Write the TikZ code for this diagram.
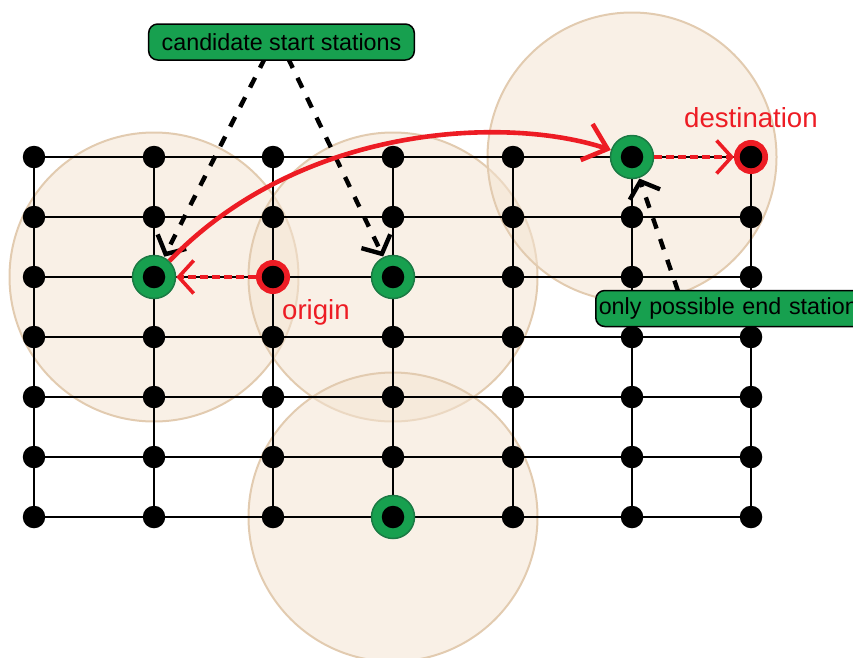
\documentclass[tikz,border=0pt]{standalone}
\usepackage{fontspec}
\setmainfont{Liberation Sans}
\usetikzlibrary{arrows.meta,calc}
\definecolor{zone}{HTML}{F4E4D2}
\definecolor{zoneedge}{HTML}{E2CBB0}
\definecolor{stgreen}{HTML}{17A04F}
\definecolor{stgreenedge}{HTML}{1B7A44}
\definecolor{stred}{HTML}{ED1C24}
\pgfdeclarelayer{zones}
\pgfdeclarelayer{links}
\pgfsetlayers{zones,links,main}
\tikzset{
  x=1pt,y=-1pt,
  dot/.style={circle,fill=black,draw=none,minimum size=22.5pt,inner sep=0pt},
  ring/.style={circle,fill=stgreen,draw=stgreenedge,line width=1.5pt,minimum size=43pt,inner sep=0pt},
  redring/.style={circle,fill=black,draw=stred,line width=6pt,minimum size=28pt,inner sep=0pt},
  zonecircle/.style={circle,fill=zone,fill opacity=0.55,draw=zoneedge,line width=2pt,minimum size=289pt,inner sep=0pt},
  gridline/.style={draw=black,line width=2.4pt},
  callout/.style={draw=black,fill=stgreen,line width=1.5pt,rounded corners=9pt,font=\fontsize{23.3pt}{26pt}\selectfont,text=black,inner ysep=0pt,minimum height=36pt},
  pointer/.style={draw=black,line width=4.4pt,dash pattern=on 11pt off 11pt,-{Straight Barb[length=14pt,width=32pt]},shorten >=0.5pt},
  hop/.style={draw=stred,line width=3.6pt,dash pattern=on 8pt off 4pt,-{Straight Barb[length=15pt,width=33pt]}},
  ride/.style={draw=stred,line width=4.6pt,-{Straight Barb[length=22pt,width=38pt]}},
  placelabel/.style={text=stred,font=\fontsize{27.6pt}{30pt}\selectfont,inner sep=0pt}
}
\begin{document}
\begin{tikzpicture}
\useasboundingbox (0,0) rectangle (853,657);
% stations
\foreach \col/\x in {1/34,2/154,3/273,4/393,5/513,6/632,7/751}
  \foreach \row/\y in {1/157,2/217,3/277,4/337,5/397,6/457,7/517}
    \coordinate (p\col\row) at (\x,\y);
\node[ring] (g1) at (p23) {};
\node[ring] (g2) at (p43) {};
\node[ring] (g3) at (p61) {};
\node[ring] (g4) at (p47) {};
\node[redring] (orig) at (p33) {};
\node[redring] (dest) at (p71) {};
\foreach \col in {1,...,7}
  \foreach \row in {1,...,7}
    \node[dot] (n\col\row) at (p\col\row) {};
% zones
\begin{pgfonlayer}{zones}
\node[zonecircle] (z1) at (p23) {};
\node[zonecircle] (z2) at (p43) {};
\node[zonecircle] (z3) at (p61) {};
\node[zonecircle] (z4) at (p47) {};
\end{pgfonlayer}
% grid
\begin{pgfonlayer}{links}
\foreach \row in {1,...,7}
  \foreach \a/\b in {1/2,2/3,3/4,4/5,5/6,6/7}
    \draw[gridline] (n\a\row.center) -- (n\b\row.center);
\foreach \col in {1,...,7}
  \foreach \a/\b in {1/2,2/3,3/4,4/5,5/6,6/7}
    \draw[gridline] (n\col\a.center) -- (n\col\b.center);
\end{pgfonlayer}
% connectors
\coordinate (c1) at (265,58);
\coordinate (c2) at (288,58);
\coordinate (c3) at (678,291);
\draw[pointer] (c1) -- (g1);
\draw[pointer] (c2) -- (g2);
\draw[pointer] (c3) -- (g3);
\draw[hop] (orig) -- (g1);
\draw[hop] (g3) -- (dest);
\draw[ride] (g1) .. controls (300,125) and (505,115) .. (g3);
% labels
\node[callout,anchor=center,inner xsep=13pt] (lab1) at (281.5,42) {candidate start stations};
\node[callout,anchor=west,inner xsep=3pt,minimum width=270pt,align=left,text width=264pt] (lab2) at (595,308.5) {only possible end station};
\node[placelabel,anchor=base west] (lorig) at (282,319) {origin};
\node[placelabel,anchor=base west] (ldest) at (684,127) {destination};
\end{tikzpicture}
\end{document}
